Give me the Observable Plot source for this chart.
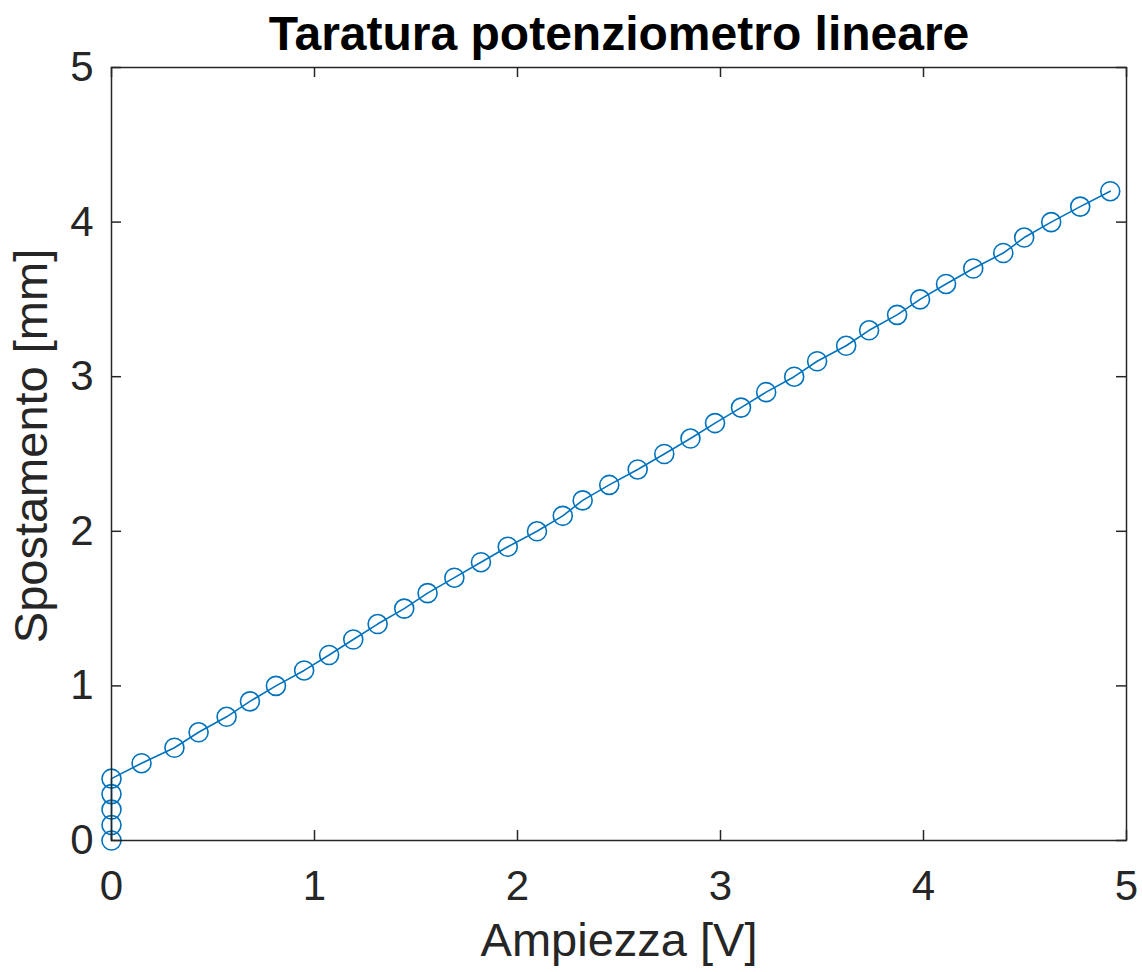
<!DOCTYPE html>
<html>
<head>
<meta charset="utf-8">
<script src="https://cdn.jsdelivr.net/npm/d3@7"></script>
<script src="https://cdn.jsdelivr.net/npm/@observablehq/plot@0.6"></script>
<style>
  html, body { margin: 0; padding: 0; background: #fff; }
  #chart svg { display: block; }
</style>
</head>
<body>
<div id="chart"></div>
<script>
// Calibration of a linear potentiometer: measured amplitude vs. displacement
const amplitudeV = [
  0, 0, 0, 0, 0,
  0.148, 0.310, 0.429, 0.567, 0.682, 0.810, 0.949, 1.072, 1.191, 1.311,
  1.442, 1.557, 1.689, 1.820, 1.952, 2.096, 2.223, 2.321, 2.452, 2.592,
  2.723, 2.852, 2.973, 3.101, 3.225, 3.363, 3.476, 3.619, 3.732, 3.870,
  3.983, 4.111, 4.245, 4.393, 4.496, 4.629, 4.772, 4.920
];
const displacementMm = [
  0.0, 0.1, 0.2, 0.3, 0.4,
  0.5, 0.6, 0.7, 0.8, 0.9, 1.0, 1.1, 1.2, 1.3, 1.4,
  1.5, 1.6, 1.7, 1.8, 1.9, 2.0, 2.1, 2.2, 2.3, 2.4,
  2.5, 2.6, 2.7, 2.8, 2.9, 3.0, 3.1, 3.2, 3.3, 3.4,
  3.5, 3.6, 3.7, 3.8, 3.9, 4.0, 4.1, 4.2
];
const ticks = [0, 1, 2, 3, 4, 5];
const titleText = "Taratura potenziometro lineare";
const xLabel = "Ampiezza [V]";
const yLabel = "Spostamento [mm]";

const data = amplitudeV.map((a, i) => ({a, s: displacementMm[i]}));

const W = 1142, H = 972;
const mL = 111, mR = 16, mT = 67, mB = 132;
const frameW = W - mL - mR, frameH = H - mT - mB;
const tickLen = 10;
const axisColor = "#262626";
const blue = "#0072BD";
const font = "'Liberation Sans', Arial, Helvetica, sans-serif";

const chart = Plot.plot({
  width: W,
  height: H,
  marginLeft: mL,
  marginRight: mR,
  marginTop: mT,
  marginBottom: mB,
  style: {fontFamily: font, color: axisColor, background: "#fff"},
  x: {domain: [0, 5]},
  y: {domain: [0, 5]},
  marks: [
    Plot.line(data, {x: "a", y: "s", stroke: blue, strokeWidth: 1.6}),
    Plot.dot(data, {x: "a", y: "s", r: 9.5, stroke: blue, fill: "none", strokeWidth: 1.6}),
    // inward ticks on all four sides
    Plot.tickX(ticks, {x: d => d, stroke: axisColor, strokeWidth: 1.5, insetTop: frameH - tickLen}),
    Plot.tickX(ticks, {x: d => d, stroke: axisColor, strokeWidth: 1.5, insetBottom: frameH - tickLen}),
    Plot.tickY(ticks, {y: d => d, stroke: axisColor, strokeWidth: 1.5, insetRight: frameW - tickLen}),
    Plot.tickY(ticks, {y: d => d, stroke: axisColor, strokeWidth: 1.5, insetLeft: frameW - tickLen}),
    Plot.frame({stroke: axisColor, strokeWidth: 1.5}),
    Plot.axisX({ticks, tickSize: 0, tickPadding: 30, fontSize: 42, tickFormat: d3.format("d"), label: null}),
    Plot.axisY({ticks, tickSize: 0, tickPadding: 18, fontSize: 42, tickFormat: d3.format("d"), label: null}),
    // axis titles
    Plot.text([xLabel], {
      frameAnchor: "bottom", dy: 115, lineAnchor: "bottom",
      fontSize: 47, fill: axisColor
    }),
    Plot.text([yLabel], {
      frameAnchor: "left", dx: -98, dy: -8, rotate: -90,
      textAnchor: "middle", lineAnchor: "top",
      fontSize: 47, fill: axisColor
    }),
    // chart title
    Plot.text([titleText], {
      frameAnchor: "top", dy: -18, lineAnchor: "bottom",
      fontSize: 48, fontWeight: "bold", fill: "#000"
    })
  ]
});

document.getElementById("chart").appendChild(chart);
</script>
</body>
</html>
